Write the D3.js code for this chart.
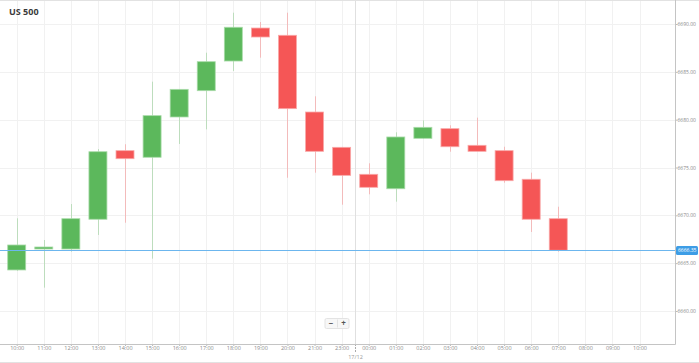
<!DOCTYPE html>
<html>
<head>
<meta charset="utf-8">
<script src="https://cdn.jsdelivr.net/npm/d3@7"></script>
<style>
  body { margin: 0; background: #fff; }
  svg { display: block; font-family: "Open Sans", "DejaVu Sans", sans-serif; }
</style>
</head>
<body>
<svg id="chart"></svg>
<script>
var width = 699;
var height = 363;

// hourly slots on the time axis (22:00 is skipped, market break)
var hours = ["10:00", "11:00", "12:00", "13:00", "14:00", "15:00", "16:00", "17:00", "18:00",
    "19:00", "20:00", "21:00", "23:00", "00:00", "01:00", "02:00", "03:00", "04:00", "05:00",
    "06:00", "07:00", "08:00", "09:00", "10:00"];
var opens  = [6664.29, 6666.48, 6666.48, 6669.59, 6676.76, 6676.07, 6680.28, 6683.03, 6686.13,
    6689.58, 6688.82, 6680.80, 6677.11, 6674.29, 6672.78, 6678.05, 6679.06, 6677.32, 6676.76,
    6673.77, 6669.65];
var highs  = [6669.69, 6667.42, 6671.18, 6676.93, 6677.43, 6683.97, 6683.20, 6687.00, 6691.18,
    6690.21, 6691.18, 6682.44, 6677.15, 6675.44, 6678.68, 6679.93, 6679.41, 6680.21, 6677.17,
    6674.46, 6670.90];
var lows   = [6664.20, 6662.44, 6666.20, 6667.95, 6669.23, 6665.47, 6677.46, 6678.99, 6685.09,
    6686.48, 6673.93, 6674.46, 6671.11, 6672.20, 6671.43, 6678.00, 6676.65, 6676.69, 6673.41,
    6668.26, 6666.20];
var closes = [6666.90, 6666.69, 6669.65, 6676.65, 6675.92, 6680.42, 6683.17, 6686.06, 6689.66,
    6688.64, 6681.15, 6676.69, 6674.18, 6672.93, 6678.19, 6679.20, 6677.17, 6676.69, 6673.62,
    6669.59, 6666.35];
var priceTicks = [6660, 6665, 6670, 6675, 6680, 6685, 6690];
var lastPrice = 6666.35;
var dayLabel = "17/12";
var dayIndex = 13; // first candle of the new day

var plotRight = 675;
var plotBottom = 344;

var svg = d3.select("#chart").attr("width", width).attr("height", height);

var xScale = d3.scalePoint()
    .domain(d3.range(hours.length))
    .range([16.7, 639.5]);
var step = xScale.step();

var yScale = d3.scaleLinear()
    .domain([6660, 6690])
    .range([311, 24]);

// frame lines
svg.append("line")
    .attr("x1", 0).attr("x2", width).attr("y1", 0.5).attr("y2", 0.5)
    .attr("stroke", "#e2e2e2");
svg.append("line")
    .attr("x1", 0).attr("x2", width).attr("y1", 362.5).attr("y2", 362.5)
    .attr("stroke", "#e2e2e2");

// grid
svg.append("g").selectAll("line")
    .data(d3.range(hours.length))
    .enter().append("line")
    .attr("x1", d => Math.round(xScale(d)) + 0.5)
    .attr("x2", d => Math.round(xScale(d)) + 0.5)
    .attr("y1", 1).attr("y2", plotBottom)
    .attr("stroke", "#f1f1f1");

svg.append("g").selectAll("line")
    .data(priceTicks)
    .enter().append("line")
    .attr("x1", 0).attr("x2", plotRight)
    .attr("y1", d => Math.round(yScale(d)) + 0.5)
    .attr("y2", d => Math.round(yScale(d)) + 0.5)
    .attr("stroke", "#f1f1f1");

// day separator
var sepX = Math.round((xScale(dayIndex - 1) + xScale(dayIndex)) / 2) + 0.5;
svg.append("line")
    .attr("x1", sepX).attr("x2", sepX).attr("y1", 1).attr("y2", plotBottom)
    .attr("stroke", "#e0e0e0");
svg.append("line")
    .attr("x1", sepX).attr("x2", sepX).attr("y1", plotBottom).attr("y2", plotBottom + 8)
    .attr("stroke", "#aaa")
    .attr("stroke-dasharray", "2,1");
svg.append("text")
    .attr("x", sepX).attr("y", 359)
    .attr("text-anchor", "middle")
    .attr("font-size", "5.5px")
    .attr("fill", "#999")
    .text(dayLabel);

// x axis
var xAxis = svg.append("g")
    .attr("transform", `translate(0,${plotBottom})`)
    .call(d3.axisBottom(xScale).tickSize(2).tickFormat(i => hours[i]));
xAxis.select(".domain").remove();
xAxis.selectAll(".tick line").attr("stroke", "#bbb");
xAxis.selectAll(".tick text")
    .attr("font-size", "5.5px")
    .attr("font-family", "\"Open Sans\", sans-serif")
    .attr("fill", "#8a8a8a")
    .attr("dy", "0.2em");
svg.append("line")
    .attr("x1", 0).attr("x2", plotRight + 0.5).attr("y1", plotBottom + 0.5).attr("y2", plotBottom + 0.5)
    .attr("stroke", "#c4c4c4");

// y axis on the right
var yAxis = svg.append("g")
    .attr("transform", `translate(${plotRight + 0.5},0)`)
    .call(d3.axisRight(yScale).tickValues(priceTicks).tickSize(2).tickFormat(d3.format(".2f")));
yAxis.select(".domain").remove();
yAxis.selectAll(".tick line").attr("stroke", "#bbb");
yAxis.selectAll(".tick text")
    .attr("x", 2)
    .attr("font-size", "5px")
    .attr("font-family", "\"Open Sans\", sans-serif")
    .attr("fill", "#8a8a8a");
svg.append("line")
    .attr("x1", plotRight + 0.5).attr("x2", plotRight + 0.5).attr("y1", 0).attr("y2", plotBottom + 0.5)
    .attr("stroke", "#c4c4c4");

// candles
var candles = opens.map((o, i) => ({ i: i, o: o, h: highs[i], l: lows[i], c: closes[i] }));
var bodyWidth = 18;
var up = "#5cb85c";
var down = "#f55656";

var candle = svg.append("g").selectAll("g")
    .data(candles)
    .enter().append("g");

candle.append("line")
    .attr("x1", d => Math.round(xScale(d.i)) + 0.5)
    .attr("x2", d => Math.round(xScale(d.i)) + 0.5)
    .attr("y1", d => yScale(d.h))
    .attr("y2", d => yScale(d.l))
    .attr("stroke", d => d.c >= d.o ? up : down)
    .attr("stroke-opacity", 0.35);

candle.append("rect")
    .attr("x", d => xScale(d.i) - bodyWidth / 2)
    .attr("y", d => yScale(Math.max(d.o, d.c)))
    .attr("width", bodyWidth)
    .attr("height", d => Math.max(1.5, Math.abs(yScale(d.o) - yScale(d.c))))
    .attr("fill", d => d.c >= d.o ? up : down)
    .attr("stroke", d => d.c >= d.o ? "#a9dba9" : "#f9a9a9")
    .attr("stroke-width", 0.8);

// last price line and label
var py = Math.round(yScale(lastPrice)) + 0.5;
svg.append("line")
    .attr("x1", 0).attr("x2", plotRight).attr("y1", py).attr("y2", py)
    .attr("stroke", "#6cb6ee")
    .attr("stroke-width", 1);
svg.append("rect")
    .attr("x", plotRight + 1).attr("y", py - 4.5)
    .attr("width", 22).attr("height", 9)
    .attr("rx", 1.5)
    .attr("fill", "#3d9de6");
svg.append("text")
    .attr("x", plotRight + 3).attr("y", py)
    .attr("dy", "0.35em")
    .attr("font-size", "5px")
    .attr("fill", "#fff")
    .text(lastPrice.toFixed(2));

// title
svg.append("text")
    .attr("x", 9).attr("y", 14.5)
    .attr("font-size", "9px")
    .attr("font-weight", "bold")
    .attr("fill", "#3a3a3a")
    .text("US 500");

// zoom buttons
var zoomBox = svg.append("g").attr("transform", "translate(325,318.5)");
zoomBox.append("rect")
    .attr("width", 24).attr("height", 10).attr("rx", 1.5)
    .attr("fill", "#f7f7f7").attr("stroke", "#e3e3e3");
zoomBox.append("line")
    .attr("x1", 12.5).attr("x2", 12.5).attr("y1", 1).attr("y2", 9)
    .attr("stroke", "#e3e3e3");
zoomBox.append("text")
    .attr("x", 6).attr("y", 5).attr("dy", "0.35em")
    .attr("text-anchor", "middle").attr("font-size", "8px").attr("font-weight", "bold")
    .attr("fill", "#555").text("−");
zoomBox.append("text")
    .attr("x", 18.5).attr("y", 5).attr("dy", "0.35em")
    .attr("text-anchor", "middle").attr("font-size", "8px").attr("font-weight", "bold")
    .attr("fill", "#555").text("+");
</script>
</body>
</html>
